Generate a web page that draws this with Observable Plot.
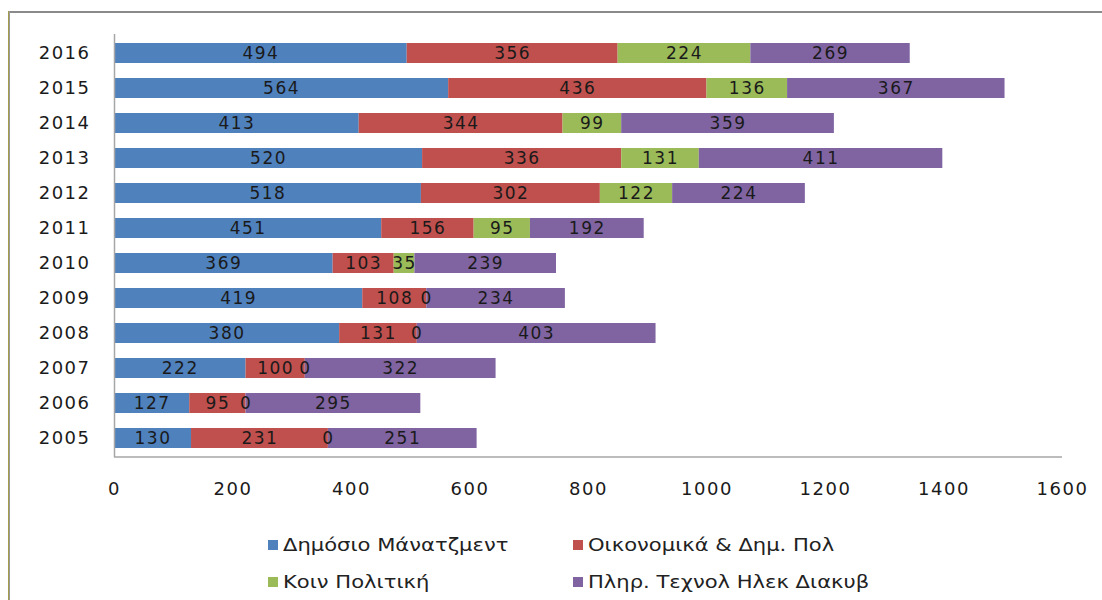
<!DOCTYPE html>
<html>
<head>
<meta charset="utf-8">
<script src="https://cdn.jsdelivr.net/npm/d3@7"></script>
<script src="https://cdn.jsdelivr.net/npm/@observablehq/plot@0.6"></script>
<style>
  html, body { margin: 0; padding: 0; background: #fff; }
  #wrap { position: relative; width: 1102px; height: 600px; overflow: hidden; font-family: "DejaVu Sans", sans-serif; }
  #borderTop { position: absolute; left: 9px; top: 11px; width: 1200px; height: 2px; background: #8a8a8a; }
  #borderLeft { position: absolute; left: 8px; top: 11px; width: 1px; height: 700px; background: #a29c4c; border-right: 1px solid #9a9a9a; }
  #chart svg text { letter-spacing: 1.5px; }
  #legend { position: absolute; left: 0; top: 0; width: 1102px; height: 600px; pointer-events: none; }
  .item { position: absolute; display: flex; align-items: center; font-size: 17px; color: #222; white-space: nowrap; }
  .item .sw { width: 10px; height: 10px; margin-right: 5px; }
  .item .lb { display: inline-block; transform: scaleX(1.24); transform-origin: left center; }
</style>
</head>
<body>
<div id="wrap">
  <div id="borderTop"></div>
  <div id="borderLeft"></div>
  <div id="chart"></div>
  <div id="legend"></div>
</div>
<script>
// Enrolment counts per programme and year
const years = ["2005", "2006", "2007", "2008", "2009", "2010", "2011", "2012", "2013", "2014", "2015", "2016"];
const seriesNames = ["Δημόσιο Μάνατζμεντ", "Οικονομικά & Δημ. Πολ", "Κοιν Πολιτική", "Πληρ. Τεχνολ Ηλεκ Διακυβ"];
const publicMgmt   = [130, 127, 222, 380, 419, 369, 451, 518, 520, 413, 564, 494];
const economics    = [231,  95, 100, 131, 108, 103, 156, 302, 336, 344, 436, 356];
const socialPolicy = [  0,   0,   0,   0,   0,  35,  95, 122, 131,  99, 136, 224];
const infoTech     = [251, 295, 322, 403, 234, 239, 192, 224, 411, 359, 367, 269];
const seriesColors = ["#4F81BD", "#C0504D", "#9BBB59", "#8064A2"];
const xTicks = [0, 200, 400, 600, 800, 1000, 1200, 1400, 1600];

const seriesValues = [publicMgmt, economics, socialPolicy, infoTech];
const rows = [];
seriesNames.forEach((name, s) => {
  years.forEach((year, i) => rows.push({year, series: name, value: seriesValues[s][i]}));
});

// bottom axis line drawn from the x scale
const bottomLine = (index, scales, values, dims) => {
  const y = dims.height - dims.marginBottom;
  const line = document.createElementNS("http://www.w3.org/2000/svg", "line");
  line.setAttribute("x1", scales.x(0));
  line.setAttribute("x2", scales.x(1600));
  line.setAttribute("y1", y);
  line.setAttribute("y2", y);
  line.setAttribute("stroke", "#a6a6a6");
  line.setAttribute("stroke-width", 1.5);
  return line;
};

const chart = Plot.plot({
  width: 1102,
  height: 510,
  marginTop: 34,
  marginBottom: 53,
  marginLeft: 114,
  marginRight: 40,
  style: {fontFamily: "'DejaVu Sans', sans-serif", color: "#1a1a1a", background: "transparent"},
  x: {domain: [0, 1600], ticks: xTicks, label: null},
  y: {domain: years.slice().reverse(), paddingInner: 0.433, paddingOuter: 0.2165, label: null},
  color: {domain: seriesNames, range: seriesColors},
  marks: [
    Plot.barX(rows, Plot.stackX({x: "value", y: "year", fill: "series", z: "series"})),
    Plot.text(rows, Plot.stackX({x: "value", y: "year", z: "series", text: d => String(d.value), fill: "#1a1a1a", fontSize: 17})),
    Plot.ruleX([0], {stroke: "#a6a6a6", strokeWidth: 1.5}),
    bottomLine,
    Plot.axisX({ticks: xTicks, tickFormat: d => String(d), tickSize: 0, tickPadding: 25, fontSize: 18, label: null}),
    Plot.axisY({tickSize: 0, tickPadding: 24, fontSize: 18, label: null})
  ]
});
document.getElementById("chart").appendChild(chart);

// legend, two columns by two rows
const legendPos = [[268, 545], [573, 545], [268, 582], [573, 582]];
const legend = document.getElementById("legend");
seriesNames.forEach((name, i) => {
  const item = document.createElement("div");
  item.className = "item";
  item.style.left = legendPos[i][0] + "px";
  item.style.top = (legendPos[i][1] - 11) + "px";
  item.style.height = "22px";
  const sw = document.createElement("span");
  sw.className = "sw";
  sw.style.background = seriesColors[i];
  const lb = document.createElement("span");
  lb.className = "lb";
  lb.textContent = name;
  item.appendChild(sw);
  item.appendChild(lb);
  legend.appendChild(item);
});
</script>
</body>
</html>
